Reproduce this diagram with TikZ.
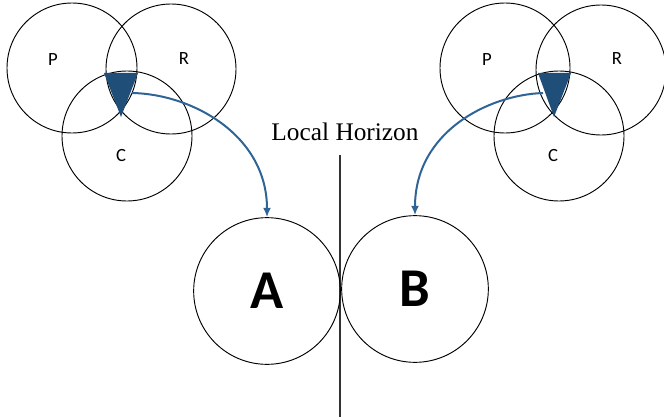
\documentclass[tikz,border=0pt]{standalone}
\usepackage{fontspec}
\setmainfont{Liberation Serif}
\newfontfamily\calfont{Carlito}
\usetikzlibrary{arrows.meta, positioning, calc}
\definecolor{flowblue}{HTML}{2F6497}
\definecolor{wedgeblue}{HTML}{1F4E79}

\tikzset{
  ring/.style={draw=black, line width=0.7pt, circle, inner sep=0pt, minimum size=97.5pt},
  bigring/.style={draw=black, line width=0.7pt, circle, inner sep=0pt, minimum size=110pt},
  vennlabel/.style={font=\calfont\fontsize{14}{16}\selectfont},
  flow/.style={flowblue, line width=1.5pt, -{Latex[length=7pt,width=6pt]}}
}

\begin{document}
\begin{tikzpicture}[x=0.75pt, y=-0.75pt]
  \useasboundingbox (0,0) rectangle (664,417);

  % Left Venn (P, R, C)
  \node[ring] (lp) at (72,68) {};
  \node[ring] (lr) at (171,69) {};
  \node[ring] (lc) at (127,136) {};
  \node[vennlabel] (lplab) at (53,60) {P};
  \node[vennlabel] (lrlab) at (184,59) {R};
  \node[vennlabel] (lclab) at (121,156) {C};
  \fill[wedgeblue] (104,73) -- (138,73) -- (121,117) -- cycle;
  \coordinate (lsrc) at (132,93);

  % Right Venn (P, R, C)
  \node[ring] (rp) at (505,68) {};
  \node[ring] (rr) at (601,70) {};
  \node[ring] (rc) at (559,136) {};
  \node[vennlabel] (rplab) at (487,60) {P};
  \node[vennlabel] (rrlab) at (617,59) {R};
  \node[vennlabel] (rclab) at (553,156) {C};
  \fill[wedgeblue] (538,73) -- (571,73) -- (554,117) -- cycle;
  \coordinate (rsrc) at (543,93);

  % Horizon line and its label
  \node[font=\fontsize{19}{21}\selectfont] (horizon) at (345,132) {Local Horizon};
  \coordinate (htop) at (340,155);
  \coordinate (hbot) at (340,417);
  \draw[black!80, line width=0.8pt] (htop) -- (hbot);

  % Observers A and B
  \node[bigring, font=\calfont\bfseries\fontsize{41}{44}\selectfont] (a) at (267,291) {A};
  \node[bigring, font=\calfont\bfseries\fontsize{41}{44}\selectfont] (b) at (415,289) {B};

  % Arrows from the overlap to each observer
  \draw[flow] (lsrc) .. controls (192,94) and (267,135) .. (a.north);
  \draw[flow] (rsrc) .. controls (488,95) and (415,132) .. (b.north);
\end{tikzpicture}
\end{document}
